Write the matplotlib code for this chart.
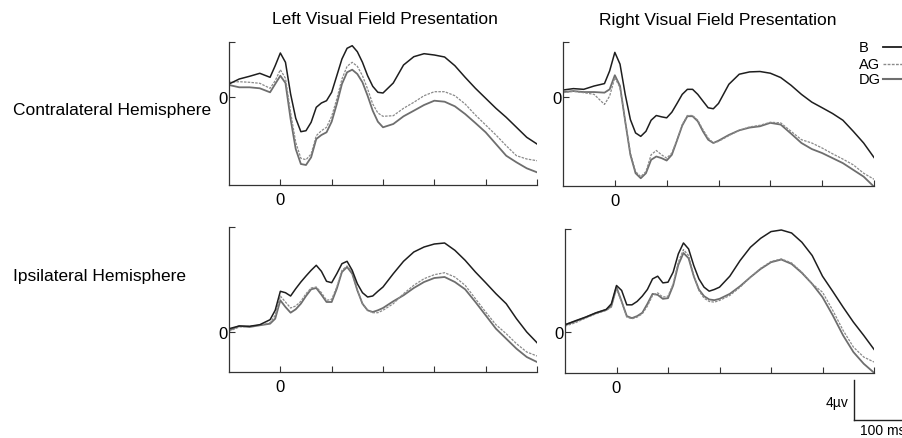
import matplotlib
matplotlib.use('Agg')
import matplotlib.pyplot as plt
from matplotlib.lines import Line2D

plt.rcParams['font.family'] = ['Liberation Sans', 'DejaVu Sans']

W, H = 902, 439

# time axis (ms) shared by all panels
t = [-100, -80, -60, -40, -20, -10, 0, 10, 20, 30, 40, 50, 60, 70, 80, 90,
     100, 110, 120, 130, 140, 150, 160, 170, 180, 190, 200, 220, 240, 260,
     280, 300, 320, 340, 360, 380, 400, 420, 440, 460, 480, 500]

# amplitudes (uV)
lvf_contra_B = [1.25, 1.75, 2.02, 2.32, 1.92, 3.08, 4.35, 3.42, 0.25, -2.18, -3.52, -3.42,
                -2.58, -1.08, -0.65, -0.42, 0.42, 2.08, 3.75, 4.82, 5.08, 4.48, 3.42, 2.08,
                1.02, 0.42, 0.35, 1.35, 3.15, 3.98, 4.28, 4.15, 3.95, 3.08, 1.92, 0.82,
                -0.18, -1.18, -2.08, -3.08, -4.08, -4.75]
lvf_contra_AG = [1.42, 1.48, 1.42, 1.32, 0.82, 1.58, 2.68, 1.82, -1.58, -4.58, -6.18, -6.32,
                 -5.75, -3.92, -3.42, -3.08, -1.98, -0.25, 1.75, 3.02, 3.42, 3.02, 2.08, 0.75,
                 -0.75, -1.65, -1.98, -1.92, -1.18, -0.58, 0.08, 0.48, 0.48, 0.08, -0.75, -1.85,
                 -2.85, -3.85, -4.92, -5.92, -6.25, -6.42]
lvf_contra_DG = [1.15, 0.92, 0.92, 0.82, 0.42, 1.25, 2.08, 1.35, -2.25, -5.25, -6.75, -6.85,
                 -6.08, -4.25, -3.85, -3.58, -2.52, -0.75, 1.25, 2.42, 2.68, 2.25, 1.42, 0.08,
                 -1.42, -2.52, -3.08, -2.75, -1.98, -1.42, -0.85, -0.42, -0.52, -0.98, -1.75, -2.65,
                 -3.58, -4.75, -5.92, -6.58, -7.18, -7.58]

rvf_contra_B = [0.68, 0.82, 0.75, 1.08, 1.32, 2.58, 4.42, 3.25, 0.25, -2.25, -3.58, -3.92,
                -3.42, -2.32, -1.85, -1.98, -2.08, -1.52, -0.65, 0.25, 0.75, 0.75, 0.25, -0.42,
                -1.08, -1.18, -0.65, 1.25, 2.25, 2.48, 2.52, 2.35, 1.92, 1.15, 0.25, -0.52,
                -1.08, -1.65, -2.32, -3.42, -4.58, -6.02]
rvf_contra_AG = [0.42, 0.55, 0.42, 0.25, -0.75, 0.08, 1.92, 0.92, -2.42, -5.58, -7.42, -7.92,
                 -7.42, -5.75, -5.32, -5.75, -6.08, -5.58, -4.25, -2.75, -1.85, -1.85, -2.32, -3.25,
                 -4.08, -4.58, -4.42, -3.85, -3.32, -2.98, -2.82, -2.52, -2.58, -3.42, -4.25, -4.58,
                 -5.08, -5.65, -6.18, -6.75, -7.58, -8.18]
rvf_contra_DG = [0.48, 0.58, 0.48, 0.48, 0.42, 0.75, 2.15, 1.08, -2.42, -5.75, -7.58, -8.08,
                 -7.58, -6.25, -5.92, -6.08, -6.32, -5.75, -4.32, -2.85, -1.92, -1.92, -2.42, -3.42,
                 -4.25, -4.58, -4.35, -3.78, -3.32, -3.05, -2.92, -2.58, -2.75, -3.65, -4.58, -5.18,
                 -5.58, -6.08, -6.58, -7.25, -7.92, -8.92]

lvf_ipsi_B = [0.33, 0.60, 0.57, 0.73, 1.23, 2.17, 4.07, 3.93, 3.60, 4.33, 5.00, 5.60,
              6.17, 6.67, 6.07, 5.07, 4.93, 5.83, 6.83, 7.07, 6.17, 4.83, 3.93, 3.50,
              3.60, 4.07, 4.50, 5.83, 7.07, 8.00, 8.50, 8.80, 8.90, 8.17, 7.17, 6.00,
              4.93, 3.83, 2.83, 1.33, 0.00, -1.07]
lvf_ipsi_AG = [0.07, 0.50, 0.57, 0.67, 0.93, 1.67, 3.60, 3.00, 2.40, 2.60, 3.07, 3.83,
               4.40, 4.50, 3.93, 3.17, 3.27, 4.50, 6.17, 6.60, 6.00, 4.17, 2.83, 2.17,
               1.93, 1.93, 2.17, 2.83, 3.83, 4.67, 5.33, 5.73, 5.93, 5.50, 4.67, 3.33,
               2.00, 0.73, -0.17, -1.17, -2.00, -2.40]
lvf_ipsi_DG = [0.17, 0.60, 0.50, 0.67, 0.83, 1.33, 3.17, 2.50, 1.93, 2.27, 2.83, 3.60,
               4.27, 4.40, 3.73, 3.00, 3.00, 4.33, 6.00, 6.50, 5.83, 4.17, 2.83, 2.17,
               2.00, 2.17, 2.40, 3.07, 3.67, 4.40, 5.00, 5.40, 5.50, 5.00, 4.27, 3.00,
               1.67, 0.33, -0.67, -1.67, -2.50, -3.00]

rvf_ipsi_B = [0.73, 1.13, 1.50, 1.93, 2.27, 2.83, 4.67, 4.17, 2.73, 2.73, 3.07, 3.60,
              4.27, 5.33, 5.60, 4.93, 5.00, 6.00, 7.83, 8.93, 8.33, 6.67, 5.33, 4.50,
              4.10, 4.27, 4.50, 5.60, 7.17, 8.50, 9.40, 10.07, 10.23, 9.93, 9.00, 7.67,
              5.60, 4.07, 2.50, 1.00, -0.33, -1.73]
rvf_ipsi_AG = [0.60, 0.93, 1.40, 1.83, 2.17, 2.50, 4.33, 3.00, 1.50, 1.33, 1.50, 1.83,
               2.60, 3.67, 3.93, 3.50, 3.60, 4.83, 7.00, 8.27, 7.67, 5.67, 4.17, 3.40,
               3.07, 3.00, 3.17, 3.67, 4.50, 5.50, 6.40, 7.07, 7.33, 6.93, 6.00, 4.83,
               4.00, 2.17, 0.17, -1.50, -2.50, -3.00]
rvf_ipsi_DG = [0.73, 1.07, 1.47, 1.90, 2.23, 2.60, 4.50, 3.07, 1.60, 1.40, 1.60, 1.93,
               2.83, 3.83, 3.73, 3.33, 3.40, 4.67, 6.73, 7.93, 7.40, 5.60, 4.27, 3.60,
               3.27, 3.20, 3.33, 3.83, 4.60, 5.50, 6.33, 7.00, 7.27, 6.83, 5.93, 4.83,
               3.50, 1.67, -0.33, -2.00, -3.17, -4.07]

titles = ['Left Visual Field Presentation', 'Right Visual Field Presentation']
row_labels = ['Contralateral Hemisphere', 'Ipsilateral Hemisphere']
conditions = ['B', 'AG', 'DG']


def box(x0, y0, x1, y1):
    # pixel box (top-left origin) -> figure fraction rect
    return [x0 / W, 1 - y1 / H, (x1 - x0) / W, (y1 - y0) / H]


fig = plt.figure(figsize=(W / 100, H / 100), dpi=100)

panels = [
    (box(229, 43, 537, 186), (-8.85, 5.45), [lvf_contra_B, lvf_contra_AG, lvf_contra_DG]),
    (box(563, 43, 874, 187), (-8.85, 5.45), [rvf_contra_B, rvf_contra_AG, rvf_contra_DG]),
    (box(229, 228, 537, 373), (-4.0, 10.5), [lvf_ipsi_B, lvf_ipsi_AG, lvf_ipsi_DG]),
    (box(565, 230, 874, 374), (-4.1, 10.33), [rvf_ipsi_B, rvf_ipsi_AG, rvf_ipsi_DG]),
]

for rect, ylim, (b, ag, dg) in panels:
    ax = fig.add_axes(rect)
    ax.plot(t, dg, color='#6e6e6e', lw=1.3, solid_joinstyle='round')
    ax.plot(t, ag, color='#8a8a8a', lw=0.9, dashes=(2, 1))
    ax.plot(t, b, color='#1e1e1e', lw=1.1, solid_joinstyle='round')
    ax.set_xlim(-100, 500)
    ax.set_ylim(*ylim)
    for s in ['top', 'right']:
        ax.spines[s].set_visible(False)
    for s in ['left', 'bottom']:
        ax.spines[s].set_color('#333333')
        ax.spines[s].set_linewidth(0.9)
    ax.set_xticks(range(0, 501, 100))
    ax.set_xticklabels(['0', '', '', '', '', ''])
    ax.set_yticks([0, ylim[1]])
    ax.set_yticklabels(['0', ''])
    ax.tick_params(direction='in', length=4, width=0.8, color='#333333',
                   labelsize=12, pad=1)
    ax.tick_params(axis='x', pad=5)
    ax.patch.set_alpha(0)

# column titles and row labels
fig.text(385 / W, 1 - 20 / H, titles[0], fontsize=12.5, ha='center', va='center')
fig.text(718 / W, 1 - 20 / H, titles[1], fontsize=12.5, ha='center', va='center')
fig.text(13 / W, 1 - 110 / H, row_labels[0], fontsize=12.5, ha='left', va='center')
fig.text(13 / W, 1 - 276 / H, row_labels[1], fontsize=12.5, ha='left', va='center')

# legend drawn by hand at the top right
leg_styles = [dict(color='#1e1e1e', lw=1.3),
              dict(color='#8a8a8a', lw=1.0, dashes=(2, 1)),
              dict(color='#6e6e6e', lw=1.5)]
for i, (name, st) in enumerate(zip(conditions, leg_styles)):
    yy = [48, 65, 80][i]
    fig.text(859 / W, 1 - yy / H, name, fontsize=10.5, ha='left', va='center')
    fig.add_artist(Line2D([883 / W, 1.0], [1 - yy / H] * 2, **st))

# scale bar
fig.add_artist(Line2D([854 / W, 854 / W], [1 - 381 / H, 1 - 421 / H], color='#222222', lw=1))
fig.add_artist(Line2D([854 / W, 1.0], [1 - 421 / H, 1 - 421 / H], color='#222222', lw=1))
fig.text(849 / W, 1 - 403 / H, '4µv', fontsize=10, ha='right', va='center')
fig.text(860 / W, 1 - 431 / H, '100 ms', fontsize=10, ha='left', va='center')

fig.savefig('out.png', dpi=100)
